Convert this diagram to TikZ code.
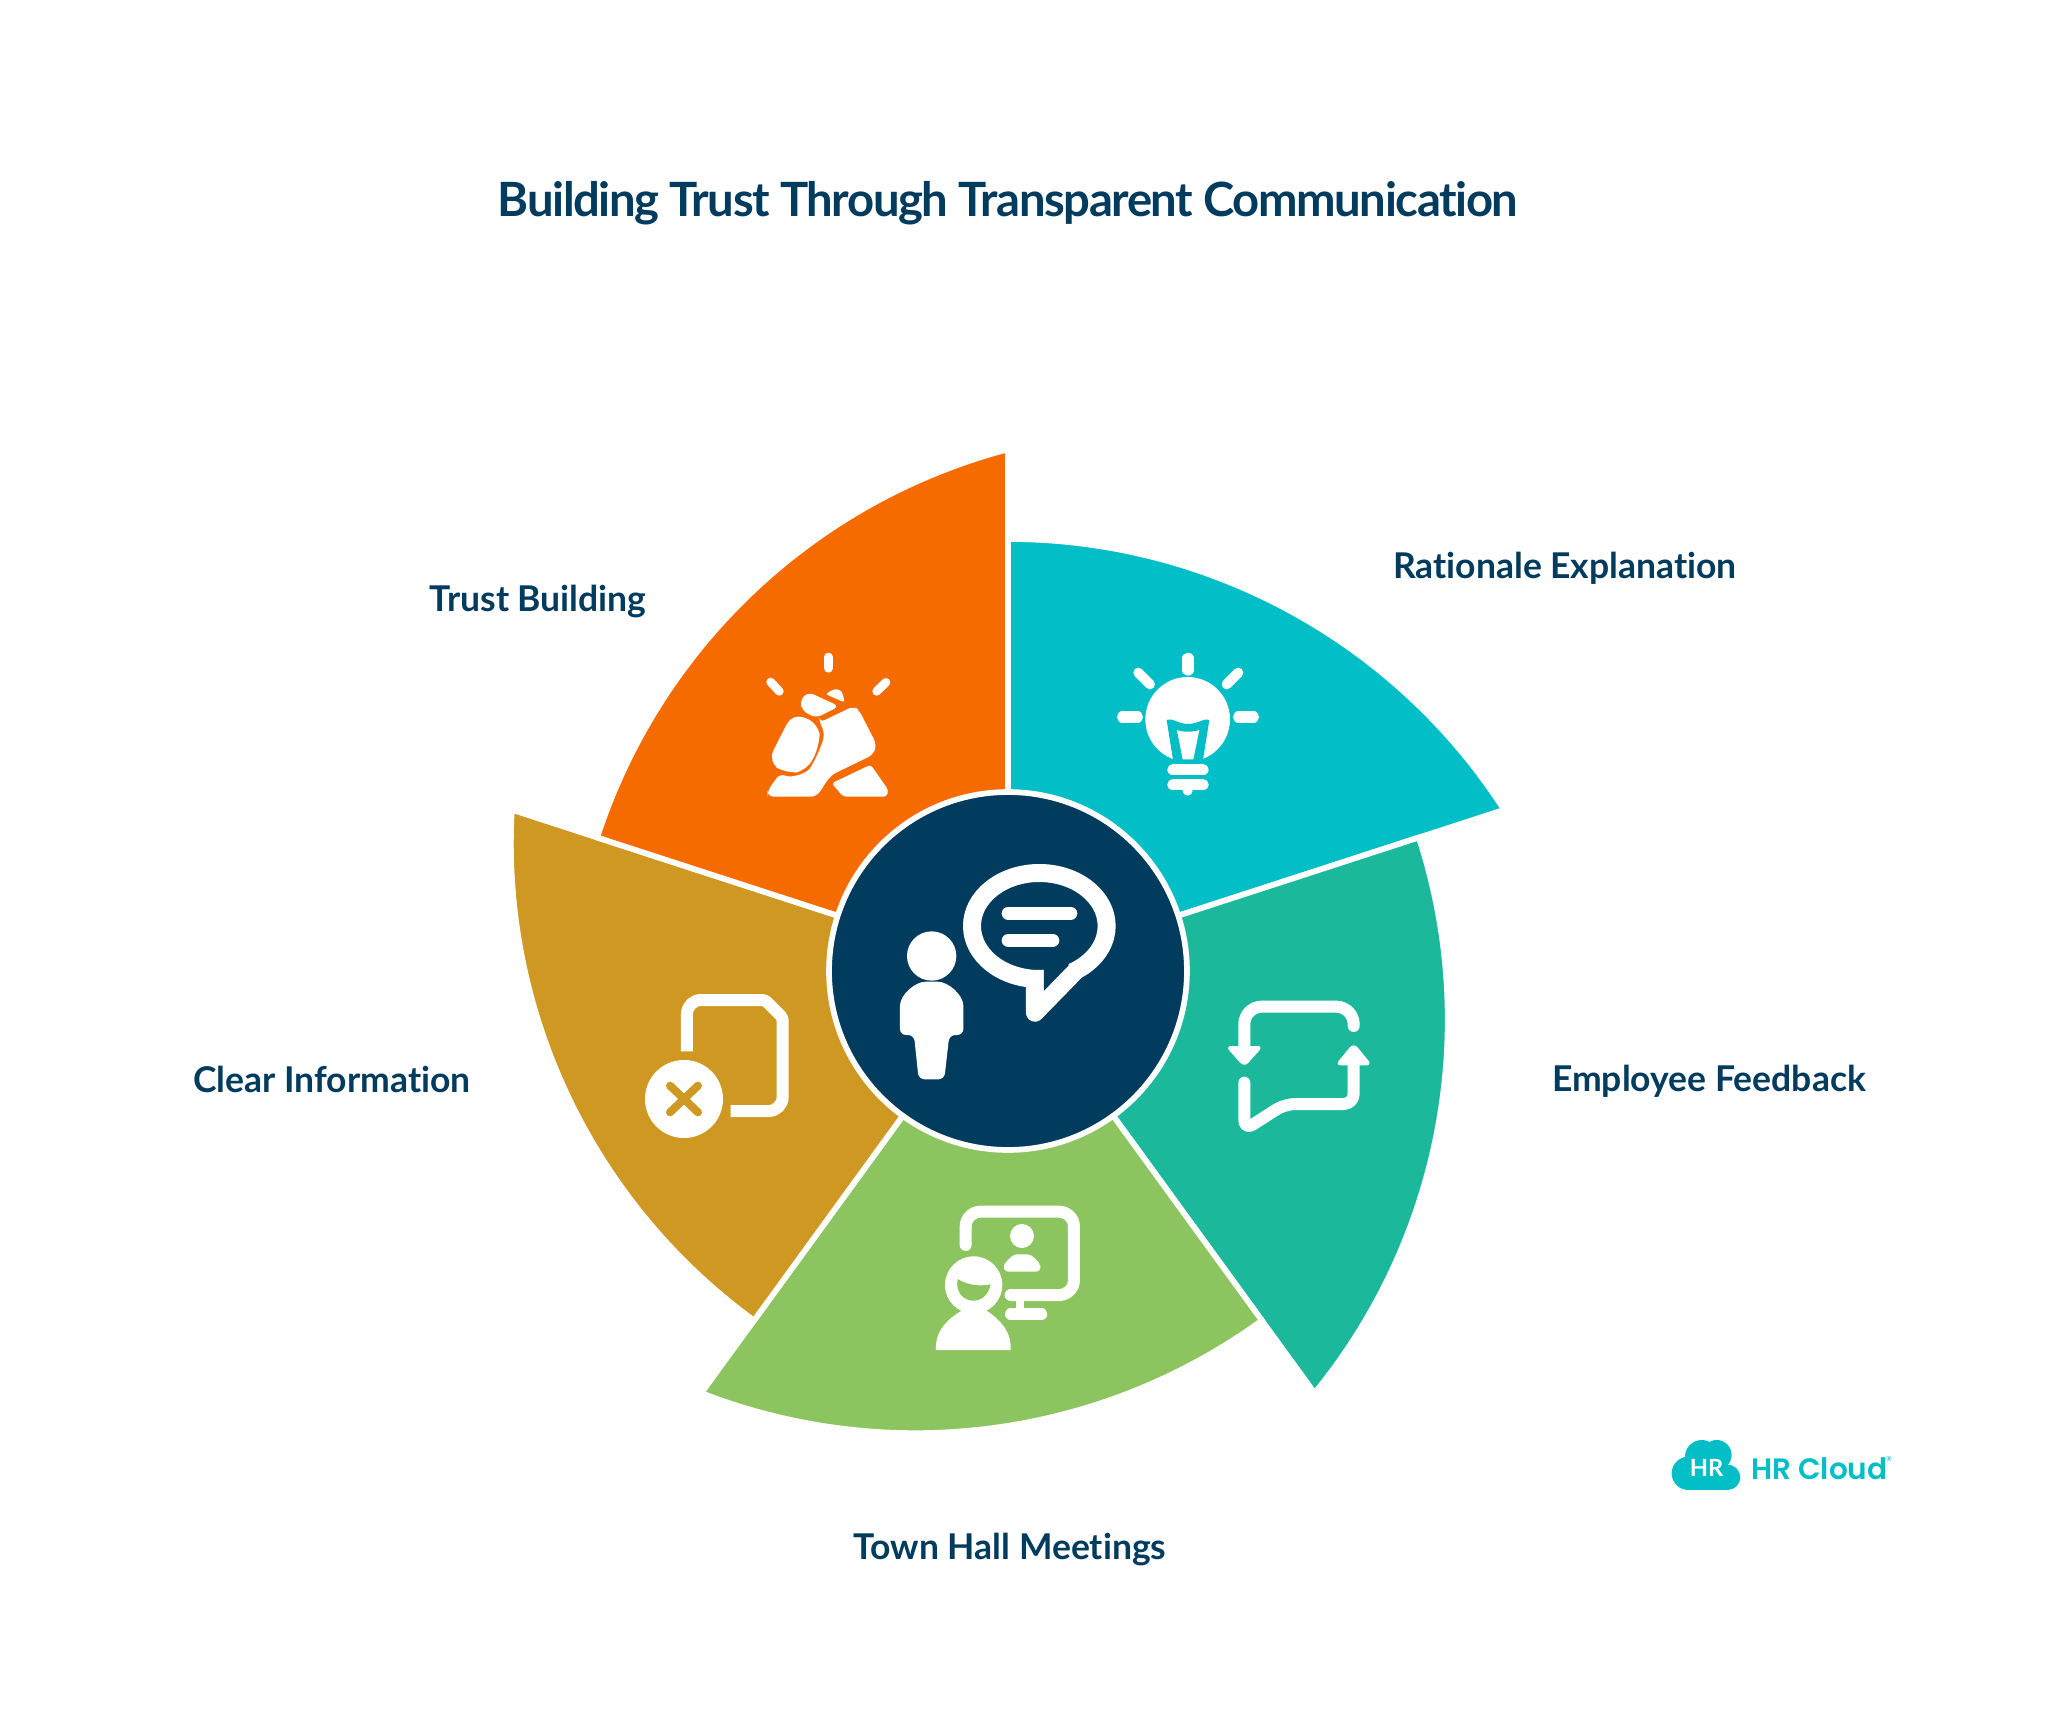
\documentclass[tikz,border=0pt]{standalone}
\usepackage{fontspec}
\setmainfont[Ligatures=CommonOff]{Lato}
\newfontfamily\logofont[BoldFont={Poppins SemiBold}]{Poppins}
\usetikzlibrary{positioning}
\definecolor{navy}{HTML}{013B5D}
\definecolor{tealA}{HTML}{02BEC6}
\definecolor{tealB}{HTML}{1CB89C}
\definecolor{leaf}{HTML}{8CC55F}
\definecolor{gold}{HTML}{CE9823}
\definecolor{flame}{HTML}{F66B00}
\begin{document}
\begin{tikzpicture}[
        x=.02cm, y=.02cm,
        sector/.style={draw=white, line width=.114cm, miter limit=20},
        seglabel/.style={text=navy, font=\fontsize{20.2}{24}\selectfont\bfseries},
        zoomed/.style 2 args={shift={(#1-1008,971-#2)}, xscale=1/3, yscale=-1/3},
        iconline/.style={draw=white, line width=#1cm, line cap=round, line join=round},
        iconfill/.style={fill=white, rounded corners=.12cm}
    ]
        \useasboundingbox (-1008,-757) rectangle (1044,971);

        % Title
        \node[text=navy, font=\addfontfeatures{LetterSpace=-3}\fontsize{26.87}{32}\selectfont\bfseries] (title) at (0,768) {Building Trust Through Transparent Communication};

        % Sectors
        \foreach \turn/\shade in {0/tealA, 1/tealB, 2/leaf, 3/gold, 4/flame} {
            \begin{scope}[rotate=-72*\turn]
                \path[sector, fill=\shade] (0,0) -- (0,432) arc (90:32.75:590) -- cycle;
            \end{scope}
        }

        % Hub
        \node[circle, fill=navy, draw=white, line width=.114cm, minimum size=7.16cm, inner sep=0pt] (hub) at (0,0) {};

        % Labels
        \node[seglabel] (rationale) at (557,403) {Rationale Explanation};
        \node[seglabel] (trust) at (-470,369) {Trust Building};
        \node[seglabel] (clear) at (-676,-108) {Clear Information};
        \node[seglabel] (feedback) at (701,-110) {Employee Feedback};
        \node[seglabel] (townhall) at (2,-579) {Town Hall Meetings};

        % Hub icon
        \begin{scope}[zoomed={820}{840}]
            \fill[white] (335,348) circle (74);
            \fill[iconfill] (240,585) -- (240,515) .. controls (240,465) and (285,425) .. (335,425) .. controls (385,425) and (430,465) .. (430,515) -- (430,585) -- (388,585) -- (373,718) -- (296,718) -- (282,585) -- cycle;
            \draw[iconline=.36] (658,258) ellipse (202 and 159);
            \draw[iconline=.36] (645,420) -- (645,518) -- (765,395);
            \fill[navy] (672,452) -- (746,376) -- (740,340) -- (672,380) -- cycle;
            \draw[iconline=.267] (565,220) -- (752,220);
            \draw[iconline=.267] (565,301) -- (698,301);
        \end{scope}

        % Bulb
        \begin{scope}[zoomed={1110}{640}]
            \draw[iconline=.227] (234,55) -- (234,90);
            \draw[iconline=.2] (85,98) -- (120,133);
            \draw[iconline=.2] (385,98) -- (350,133);
            \draw[iconline=.227] (38,231) -- (82,231);
            \draw[iconline=.227] (386,231) -- (430,231);
            \fill[white] (233,238) circle (127);
            \fill[tealA] (170,240) -- (190,366) -- (278,366) -- (298,240) .. controls (285,232) and (265,252) .. (234,252) .. controls (205,252) and (185,232) .. (170,240) -- cycle;
            \fill[white] (201,270) .. controls (215,277) and (250,277) .. (268,270) -- (250,358) -- (218,358) -- cycle;
            \fill[tealA] (150,359) rectangle (320,372);
            \draw[iconline=.227] (189,389) -- (279,389);
            \draw[iconline=.227] (189,434) -- (279,434);
            \fill[white] (233,452) circle (15);
        \end{scope}

        % Clasped hands
        \begin{scope}[zoomed={720}{620}]
            \draw[iconline=.173] (325,111) -- (325,145);
            \draw[iconline=.173] (152,186) -- (178,214);
            \draw[iconline=.173] (498,187) -- (470,214);
            \fill[iconfill, rounded corners=.06cm] (316,222) -- (345,206) -- (365,212) -- (375,248) -- cycle;
            \fill[iconfill] (240,240) -- (265,216) -- (358,259) -- (288,294) -- (246,272) -- cycle;
            \fill[iconfill] (298,308) -- (402,258) -- (418,272) -- (470,374) -- (460,404) -- (332,466) -- (290,530) -- (142,530) -- (143,512) -- (180,460) .. controls (215,475) and (260,460) .. (280,430) -- (305,375) .. controls (315,340) and (305,320) .. (298,308) -- cycle;
            \fill[iconfill, rounded corners=.25cm] (218,278) -- (298,312) -- (300,372) -- (262,452) -- (200,462) -- (143,425) -- cycle;
            \fill[iconfill, rounded corners=.06cm] (335,490) -- (452,434) -- (505,510) -- (500,530) -- (370,530) -- cycle;
        \end{scope}

        % Feedback
        \begin{scope}[zoomed={1200}{970}]
            \draw[iconline=.24, rounded corners=.35cm] (461,168) -- (461,110) -- (133,110) -- (133,240);
            \fill[iconfill] (76,228) -- (190,228) -- (133,292) -- cycle;
            \draw[iconline=.24, rounded corners=.2cm] (133,338) -- (133,480) -- (255,402) -- (461,402) -- (461,270);
            \fill[iconfill] (405,286) -- (517,286) -- (461,218) -- cycle;
        \end{scope}

        % Document
        \begin{scope}[zoomed={620}{980}]
            \draw[iconline=.24, line cap=butt] (201,214) [rounded corners=.28cm] -- (201,60) [rounded corners=.06cm] -- (435,60) -- (488,113) [rounded corners=.28cm] -- (488,393) -- (332,393);
            \fill[white] (192,357) circle (117);
            \draw[line width=.16cm, line cap=round, draw=gold] (150,317) -- (234,397);
            \draw[line width=.16cm, line cap=round, draw=gold] (234,317) -- (150,397);
        \end{scope}

        % Meeting
        \begin{scope}[zoomed={920}{1190}]
            \draw[iconline=.24, rounded corners=.3cm] (137,165) -- (137,65) -- (462,65) -- (462,315) -- (272,315);
            \draw[iconline=.16] (300,315) -- (300,372);
            \draw[iconline=.227] (272,372) -- (365,372);
            \fill[white] (306,138) circle (36);
            \fill[iconfill] (248,245) .. controls (255,215) and (280,193) .. (306,193) .. controls (335,193) and (358,215) .. (365,245) -- cycle;
            \fill[white] (161,285) circle (86);
            \fill[leaf] (113,267) .. controls (140,285) and (180,290) .. (212,283) .. controls (205,315) and (185,332) .. (160,332) .. controls (130,332) and (105,305) .. (113,267) -- cycle;
            \fill[white] (48,480) -- (48,465) .. controls (50,420) and (85,385) .. (125,362) -- (160,345) -- (200,362) .. controls (235,385) and (270,420) .. (272,465) -- (272,480) -- cycle;
        \end{scope}

        % Logo
        \begin{scope}[zoomed={1660}{1420}]
            \fill[tealA] (85,160) circle (50);
            \fill[tealA] (125,110) circle (50);
            \fill[tealA] (170,105) circle (45);
            \fill[tealA] (203,172) circle (38);
            \fill[tealA] (85,150) rectangle (203,210);
            \node[text=white, font=\fontsize{13.5}{16}\selectfont\bfseries] (logomark) at (140,145) {HR};
            \node[text=tealA, font=\logofont\fontsize{16.8}{20}\selectfont\bfseries, anchor=west, inner sep=0pt] (logotext) at (272,145) {HR Cloud};
            \node[text=tealA, font=\fontsize{4}{5}\selectfont, inner sep=0pt] (logomarkr) at (687,118) {®};
        \end{scope}
    \end{tikzpicture}
\end{document}
